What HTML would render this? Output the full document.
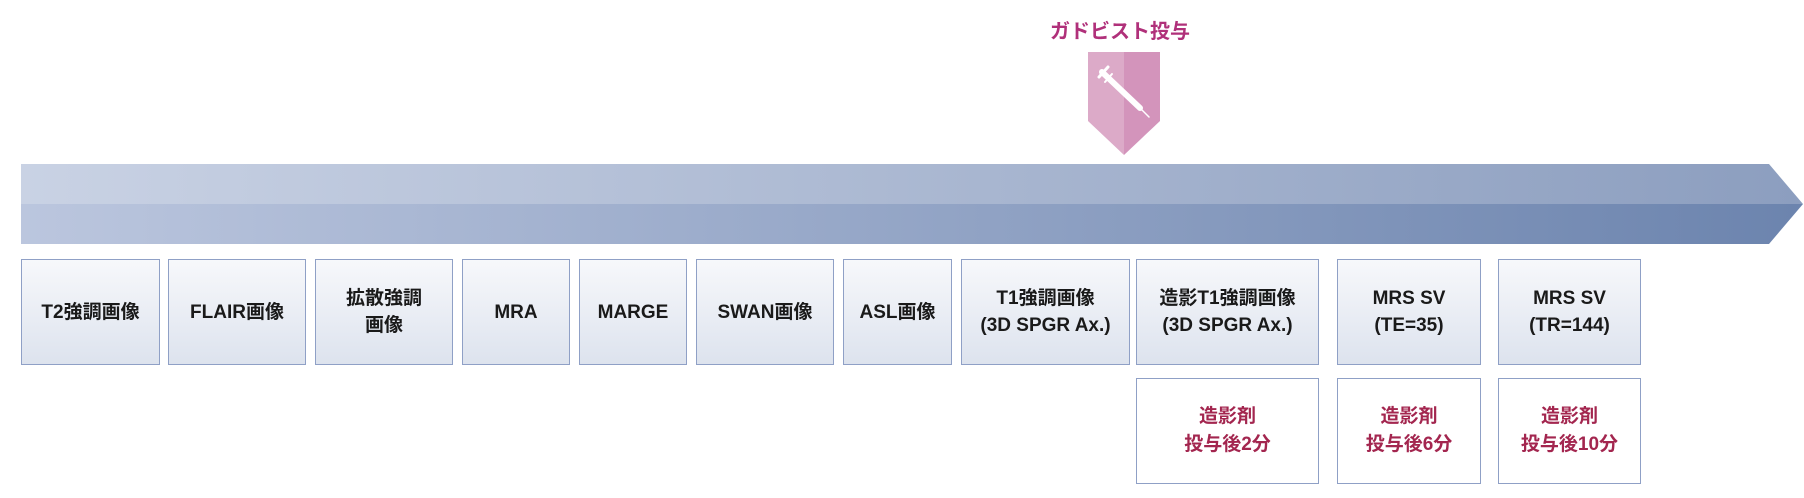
<!DOCTYPE html>
<html><head><meta charset="utf-8"><style>
body{margin:0;width:1804px;height:498px;background:#fff;position:relative;overflow:hidden;font-family:"Liberation Sans","Noto Sans CJK JP",sans-serif;}
.b{position:absolute;box-sizing:border-box;border:1.5px solid #8fa0c6;background:linear-gradient(#f7f8fb,#dde3ee);display:flex;align-items:center;justify-content:center;text-align:center;font-size:19px;font-weight:bold;line-height:27px;color:#1a1a1a;top:259px;height:106px;}
.r{position:absolute;box-sizing:border-box;border:1.5px solid #8fa0c6;background:#fff;display:flex;align-items:center;justify-content:center;text-align:center;font-size:19px;font-weight:bold;line-height:28px;color:#a3264f;top:378px;height:106px;}
</style></head><body>
<div style="position:absolute;left:1050px;top:15px;font-size:20px;font-weight:bold;color:#b0307a;">ガドビスト投与</div>
<svg style="position:absolute;left:0;top:0" width="1804" height="498">
<defs>
<linearGradient id="g1" x1="0" x2="1"><stop offset="0" stop-color="#c9d2e4"/><stop offset="1" stop-color="#8c9ebf"/></linearGradient>
<linearGradient id="g2" x1="0" x2="1"><stop offset="0" stop-color="#bbc6de"/><stop offset="1" stop-color="#6c84ae"/></linearGradient>
</defs>
<polygon points="21,164 1769,164 1803,204 21,204" fill="url(#g1)"/>
<polygon points="21,204 1803,204 1769,244 21,244" fill="url(#g2)"/>
<polygon points="1088,52 1124,52 1124,155 1088,121" fill="#dcaac8"/>
<polygon points="1124,52 1160,52 1160,121 1124,155" fill="#d394bb"/>
<g stroke="#fff" stroke-linecap="round">
<line x1="1102" y1="72" x2="1140" y2="108" stroke-width="6"/>
<line x1="1140" y1="108" x2="1149" y2="117" stroke-width="1.5"/>
<line x1="1099" y1="77" x2="1108" y2="67" stroke-width="3"/>
<line x1="1105" y1="82" x2="1112" y2="74" stroke-width="2"/>
</g>
</svg>
<div class="b" style="left:21px;width:139px">T2強調画像</div>
<div class="b" style="left:168px;width:138px">FLAIR画像</div>
<div class="b" style="left:315px;width:138px">拡散強調<br>画像</div>
<div class="b" style="left:462px;width:108px">MRA</div>
<div class="b" style="left:579px;width:108px">MARGE</div>
<div class="b" style="left:696px;width:138px">SWAN画像</div>
<div class="b" style="left:843px;width:109px">ASL画像</div>
<div class="b" style="left:961px;width:169px">T1強調画像<br>(3D SPGR Ax.)</div>
<div class="b" style="left:1136px;width:183px">造影T1強調画像<br>(3D SPGR Ax.)</div>
<div class="b" style="left:1337px;width:144px">MRS SV<br>(TE=35)</div>
<div class="b" style="left:1498px;width:143px">MRS SV<br>(TR=144)</div>
<div class="r" style="left:1136px;width:183px">造影剤<br>投与後2分</div>
<div class="r" style="left:1337px;width:144px">造影剤<br>投与後6分</div>
<div class="r" style="left:1498px;width:143px">造影剤<br>投与後10分</div>
</body></html>
